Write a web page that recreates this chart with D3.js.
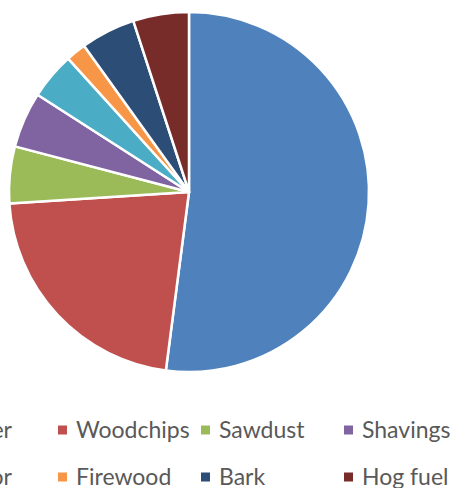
<!DOCTYPE html>
<html>
<head>
<meta charset="utf-8">
<script src="https://cdn.jsdelivr.net/npm/d3@7"></script>
<style>
  html, body { margin: 0; padding: 0; background: #fff; overflow: hidden; }
  svg { display: block; font-family: Lato, 'Open Sans', sans-serif; }
</style>
</head>
<body>
<div id="chart"></div>
<script>
// Wood fuel sources (share, %), clockwise from 12 o'clock
const categories = ['Timber', 'Woodchips', 'Sawdust', 'Shavings', 'Black liquor', 'Firewood', 'Bark', 'Hog fuel'];
const shares = [52.0, 21.9, 5.1, 5.0, 4.2, 1.8, 4.9, 5.0];
const colors = ['#4F81BD', '#C0504D', '#9BBB59', '#8064A2', '#4BACC6', '#F79646', '#2C4D75', '#772C2A'];

const width = 452, height = 488;
const cx = 189, cy = 192, radius = 180;

const data = categories.map((c, i) => ({ name: c, value: shares[i], color: colors[i] }));

const svg = d3.select('#chart')
  .append('svg')
  .attr('width', width)
  .attr('height', height);

const pie = d3.pie()
  .value(d => d.value)
  .sort(null);

const arc = d3.arc()
  .innerRadius(0)
  .outerRadius(radius);

const g = svg.append('g')
  .attr('transform', `translate(${cx},${cy})`);

g.selectAll('path')
  .data(pie(data))
  .enter()
  .append('path')
  .attr('d', arc)
  .attr('fill', d => d.data.color)
  .attr('stroke', '#fff')
  .attr('stroke-width', 2.5)
  .attr('stroke-linejoin', 'round');

// Legend: 4 columns x 2 rows, first column runs off the left edge
const colX = d3.scaleLinear().domain([0, 1]).range([-81, 62]);
const rowY = d3.scaleLinear().domain([0, 1]).range([430, 477]);

const legend = svg.append('g').attr('class', 'legend');

const items = legend.selectAll('g')
  .data(data)
  .enter()
  .append('g')
  .attr('transform', (d, i) => {
    const col = i % 4, row = Math.floor(i / 4);
    return `translate(${colX(col)},${rowY(row)})`;
  });

items.append('rect')
  .attr('x', -4)
  .attr('y', -4.5)
  .attr('width', 9)
  .attr('height', 9)
  .attr('fill', d => d.color);

// first column: labels end where the reference cuts them
items.append('text')
  .attr('x', (d, i) => i % 4 === 0 ? 93 : 14)
  .attr('y', 0)
  .attr('dy', '0.35em')
  .attr('text-anchor', (d, i) => i % 4 === 0 ? 'end' : 'start')
  .attr('font-size', 23)
  .attr('fill', '#595959')
  .text(d => d.name);
</script>
</body>
</html>
